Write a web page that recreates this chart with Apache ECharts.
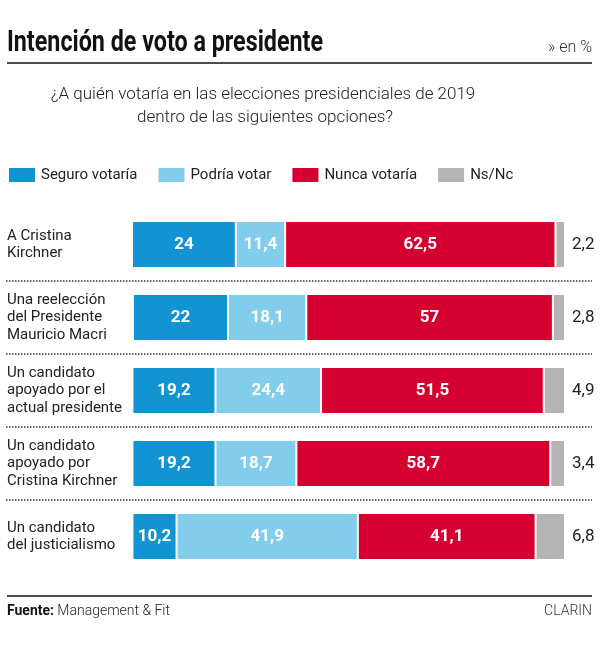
<!DOCTYPE html>
<html>
<head>
<meta charset="utf-8">
<script src="https://cdn.jsdelivr.net/npm/echarts@6/dist/echarts.min.js"></script>
<style>
html,body{margin:0;padding:0;background:#fff;}
#chart{width:600px;height:653px;}
</style>
</head>
<body>
<div id="chart"></div>
<script>
const categories = [
  "A Cristina\nKirchner",
  "Una reelección\ndel Presidente\nMauricio Macri",
  "Un candidato\napoyado por el\nactual presidente",
  "Un candidato\napoyado por\nCristina Kirchner",
  "Un candidato\ndel justicialismo"
];
const seguro = [24, 22, 19.2, 19.2, 10.2];
const podria = [11.4, 18.1, 24.4, 18.7, 41.9];
const nunca = [62.5, 57, 51.5, 58.7, 41.1];
const nsnc = [2.2, 2.8, 4.9, 3.4, 6.8];
const seriesNames = ["Seguro votaría", "Podría votar", "Nunca votaría", "Ns/Nc"];
const titleText = 'Intención de voto a presidente';

const FONT = "Roboto";
const fmt = p => String(p.value).replace('.', ',');

// condense the title to the reference's width
const mctx = document.createElement('canvas').getContext('2d');
const titleFont = 'bold 30px Roboto, sans-serif';
mctx.font = titleFont;
const titleScale = 316 / mctx.measureText(titleText).width;

const chart = echarts.init(document.getElementById('chart'), null, {renderer: 'canvas'});

function barSeries(name, data, color, inside) {
  return {
    name: name, type: 'bar', stack: 'total', data: data,
    xAxisIndex: 0, yAxisIndex: 0,
    barWidth: 47,
    itemStyle: {color: color, borderColor: '#fff', borderWidth: 1},
    label: inside ? {
      show: true, position: 'inside', formatter: fmt,
      color: '#fff', fontFamily: FONT, fontWeight: 'bold', fontSize: 17
    } : {
      show: true, position: 'right', distance: 7, formatter: fmt,
      color: '#222', fontFamily: FONT, fontSize: 17
    },
    emphasis: {disabled: true}
  };
}

const option = {
  animation: false,
  legend: {
    data: seriesNames,
    left: 7, top: 166, padding: 0,
    icon: 'rect', itemWidth: 28, itemHeight: 16, itemGap: 19,
    textStyle: {fontFamily: FONT, fontSize: 15, color: '#222'}
  },
  grid: [
    {left: 132, right: 35, top: 208, height: 365},
    {left: 6, right: 8, top: 281, height: 219}
  ],
  xAxis: [
    {gridIndex: 0, type: 'value', min: 0, max: 100.1, inverse: true, show: false},
    {gridIndex: 1, type: 'value', min: 0, max: 1, show: false}
  ],
  yAxis: [
    {
      gridIndex: 0, type: 'category', data: categories, inverse: true,
      axisLine: {show: false}, axisTick: {show: false}, splitLine: {show: false},
      axisLabel: {align: 'left', margin: 125, fontFamily: FONT, fontSize: 15, lineHeight: 17.5, color: '#222'}
    },
    {
      gridIndex: 1, type: 'value', min: 1, max: 4, interval: 1,
      axisLine: {show: false}, axisTick: {show: false}, axisLabel: {show: false},
      splitLine: {show: true, lineStyle: {color: '#333', width: 1.5, type: [1.5, 1.5]}}
    }
  ],
  series: [
    barSeries("Ns/Nc", nsnc, '#b4b4b4', false),
    barSeries("Nunca votaría", nunca, '#d5002f', true),
    barSeries("Podría votar", podria, '#82cdec', true),
    barSeries("Seguro votaría", seguro, '#1294d3', true)
  ],
  graphic: [
    {type: 'text', x: 7, y: 43, scaleX: titleScale, originX: 0,
      style: {text: titleText, x: 0, y: 0, textVerticalAlign: 'middle', font: titleFont, fill: '#111'}},
    {type: 'text', style: {text: '» en %', x: 592, y: 48, textAlign: 'right', textVerticalAlign: 'middle',
      font: '300 16px Roboto, sans-serif', fill: '#333'}},
    {type: 'line', shape: {x1: 7, y1: 63, x2: 592, y2: 63}, style: {stroke: '#111', lineWidth: 1.5}},
    {type: 'text', style: {text: '¿A quién votaría en las elecciones presidenciales de 2019', x: 263, y: 95,
      textAlign: 'center', textVerticalAlign: 'middle', font: '300 17px Roboto, sans-serif', fill: '#222'}},
    {type: 'text', style: {text: 'dentro de las siguientes opciones?', x: 265, y: 118,
      textAlign: 'center', textVerticalAlign: 'middle', font: '300 17px Roboto, sans-serif', fill: '#222'}},
    {type: 'line', shape: {x1: 7, y1: 596, x2: 592, y2: 596}, style: {stroke: '#111', lineWidth: 1.5}},
    {type: 'text', style: {text: '{b|Fuente:} {n|Management & Fit}', x: 7, y: 611, textVerticalAlign: 'middle',
      rich: {b: {fontFamily: FONT, fontWeight: 'bold', fontSize: 14, fill: '#111'},
             n: {fontFamily: FONT, fontWeight: 300, fontSize: 14, fill: '#222'}}}},
    {type: 'text', style: {text: 'CLARIN', x: 592, y: 611, textAlign: 'right', textVerticalAlign: 'middle',
      font: '300 14px Roboto, sans-serif', fill: '#333'}}
  ]
};
chart.setOption(option);
</script>
</body>
</html>
